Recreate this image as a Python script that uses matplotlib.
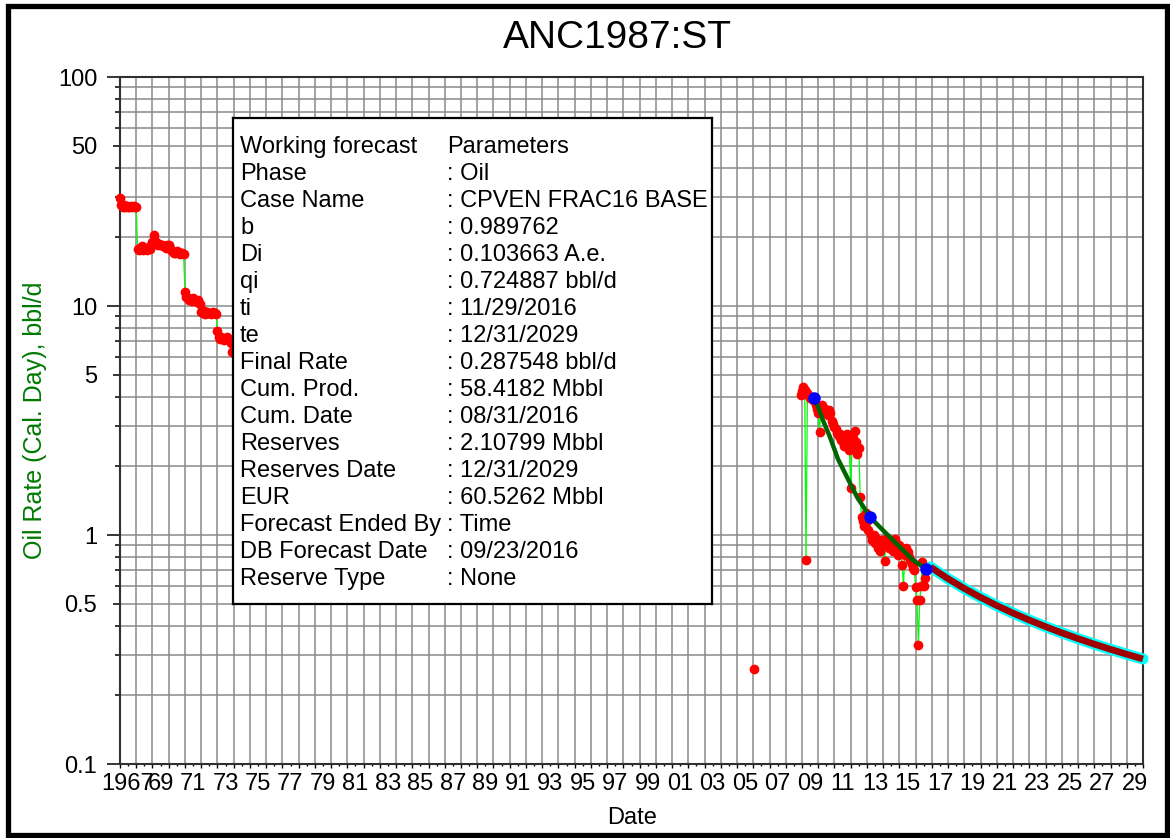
import numpy as np
import matplotlib.pyplot as plt
from matplotlib.patches import Rectangle
from matplotlib.ticker import FixedLocator, NullFormatter

plt.rcParams['font.family'] = ['Liberation Sans', 'DejaVu Sans']

# monthly oil rate, bbl/d, Jan 1967 - Dec 1973
early_start = 1967.0
early_rates = [
    29.5, 27.5, 27.0, 27.5, 27.0, 27.3, 27.0, 27.0, 27.4, 27.0, 27.2, 27.0,
    27.0, 17.8, 17.5, 17.9, 18.2, 17.6, 17.9, 18.0, 17.5, 18.0, 17.7, 18.4,
    19.0, 20.5, 19.3, 18.8, 18.5, 18.6, 18.4, 18.5, 18.2, 18.3, 18.0, 18.4,
    18.5, 18.0, 17.5, 17.2, 17.0, 17.0, 17.3, 17.0, 16.8, 17.0, 17.0, 16.8,
    11.5, 11.0, 10.8, 10.6, 10.7, 10.5, 10.8, 10.6, 10.5, 10.4, 10.6, 10.2,
    9.4, 9.3, 9.5, 9.2, 9.4, 9.3, 9.3, 9.2, 9.3, 9.4, 9.3, 9.2,
    7.8, 7.3, 7.2, 7.3, 7.2, 7.1, 7.2, 7.3, 7.2, 7.1, 6.9, 6.3,
]

# single test month
stray_dates = [2006.05]
stray_rates = [0.26]

# monthly oil rate, bbl/d, Dec 2008 - Aug 2016
recent_start = 2008 + 11 / 12
recent_rates = [
    4.10, 4.25, 4.45, 4.30, 0.78, 4.15, 4.05, 3.95, 4.00, 3.90, 3.96, 3.70,
    3.55, 3.42, 2.83, 3.60, 3.70, 3.50, 3.55, 3.45, 3.35, 3.50, 3.40, 3.15,
    3.05, 2.95, 2.90, 2.80, 2.70, 2.75, 2.60, 2.55, 2.45, 2.60, 2.75, 2.50,
    2.35, 1.60, 2.45, 2.65, 2.85, 2.55, 2.25, 2.40, 1.47, 1.20, 1.15, 1.10,
    1.25, 1.15, 1.05, 1.20, 1.00, 0.95, 1.00, 0.92, 0.97, 0.88, 0.93, 0.85,
    0.95, 0.90, 0.77, 0.92, 0.97, 0.88, 0.95, 0.90, 0.85, 0.92, 0.96, 0.87,
    0.82, 0.90, 0.85, 0.74, 0.60, 0.82, 0.88, 0.84, 0.80, 0.78, 0.75, 0.72,
    0.70, 0.59, 0.52, 0.33, 0.52, 0.60, 0.76, 0.60, 0.65, 0.71,
]
anchor_idx = [10, 51, 93]

# decline fitted through the anchor months
fit_dates = [2009.79, 2010.29, 2010.72, 2011.21, 2011.77, 2012.38,
             2013.18, 2013.98, 2015.03, 2015.83, 2016.63]
fit_rates = [3.96, 3.17, 2.68, 2.15, 1.79, 1.47, 1.20, 1.05, 0.886, 0.778, 0.71]

# working forecast, 11/29/2016 - 12/31/2029
fc_dates = [2016.91, 2017.0, 2018.0, 2019.0, 2020.0, 2021.0, 2022.0, 2023.0,
            2024.0, 2025.0, 2026.0, 2027.0, 2028.0, 2029.0, 2029.997]
fc_rates = [0.7249, 0.7174, 0.6437, 0.5837, 0.5339, 0.4919, 0.4559, 0.4249,
            0.3978, 0.3739, 0.3527, 0.3338, 0.3168, 0.3014, 0.2875]

year_labels = ['1967', '69', '71', '73', '75', '77', '79', '81', '83', '85',
               '87', '89', '91', '93', '95', '97', '99', '01', '03', '05',
               '07', '09', '11', '13', '15', '17', '19', '21', '23', '25',
               '27', '29']
y_ticks = [0.1, 0.5, 1, 5, 10, 50, 100]
y_tick_labels = ['0.1', '0.5', '1', '5', '10', '50', '100']

params = [
    ('Working forecast', 'Parameters'),
    ('Phase', ': Oil'),
    ('Case Name', ': CPVEN FRAC16 BASE'),
    ('b', ': 0.989762'),
    ('Di', ': 0.103663 A.e.'),
    ('qi', ': 0.724887 bbl/d'),
    ('ti', ': 11/29/2016'),
    ('te', ': 12/31/2029'),
    ('Final Rate', ': 0.287548 bbl/d'),
    ('Cum. Prod.', ': 58.4182 Mbbl'),
    ('Cum. Date', ': 08/31/2016'),
    ('Reserves', ': 2.10799 Mbbl'),
    ('Reserves Date', ': 12/31/2029'),
    ('EUR', ': 60.5262 Mbbl'),
    ('Forecast Ended By', ': Time'),
    ('DB Forecast Date', ': 09/23/2016'),
    ('Reserve Type', ': None'),
]

W, H = 1170, 838
fig = plt.figure(figsize=(W / 100, H / 100), dpi=100)
ax = fig.add_axes([120 / W, 1 - 764 / H, (1143 - 120) / W, (764 - 77) / H])
ax.set_yscale('log')
ax.set_xlim(1967, 2030)
ax.set_ylim(0.1, 100)

early_dates = early_start + np.arange(len(early_rates)) / 12
recent_dates = recent_start + np.arange(len(recent_rates)) / 12
recent_rates = np.array(recent_rates)

# production history
for d, r in ((early_dates, early_rates), (recent_dates, recent_rates)):
    ax.plot(d, r, color='#00ff00', lw=0.9, zorder=3)
    ax.plot(d, r, ls='none', marker='o', ms=6, color='red', mec='red',
            zorder=4, clip_on=False)
ax.plot(stray_dates, stray_rates, ls='none', marker='o', ms=6, color='red',
        zorder=4)

# fitted decline and forecast
ax.plot(fit_dates, fit_rates, color='#006400', lw=3.2, zorder=5)
ax.plot(fc_dates, fc_rates, color='#00ffff', lw=8, zorder=5,
        solid_capstyle='round', clip_on=False)
ax.plot(fc_dates, fc_rates, color='#a00000', lw=4.8, zorder=6,
        solid_capstyle='butt', clip_on=False)
ax.plot(recent_dates[anchor_idx], recent_rates[anchor_idx], ls='none',
        marker='o', ms=8, color='#0000ff', mec='#0000ff', zorder=7)

# x axis: yearly grid, labels centred on mid-year
half_years = [1967.5 + i for i in range(63)]
x_labels = []
for i in range(63):
    x_labels.append(year_labels[i // 2] if i % 2 == 0 else '')
ax.xaxis.set_major_locator(FixedLocator(half_years))
ax.set_xticklabels(x_labels)
ax.xaxis.set_minor_locator(FixedLocator(list(range(1967, 2031))))
ax.xaxis.set_minor_formatter(NullFormatter())
ax.tick_params(axis='x', which='major', length=1.5, width=1, pad=5,
               labelsize=17)
ax.tick_params(axis='x', which='minor', length=3, width=1)

# y axis: log decades with 2..9 gridlines
ax.yaxis.set_major_locator(FixedLocator(y_ticks))
ax.set_yticklabels(y_tick_labels)
minor_y = [m * 10.0 ** e for e in (-1, 0, 1) for m in (2, 3, 4, 6, 7, 8, 9)]
ax.yaxis.set_minor_locator(FixedLocator(minor_y))
ax.yaxis.set_minor_formatter(NullFormatter())
ax.tick_params(axis='y', which='major', length=9.4, width=1.1, pad=7,
               labelsize=17)
ax.tick_params(axis='y', which='minor', length=3.6, width=1.1)
for tick, v in zip(ax.yaxis.get_major_ticks(), y_ticks):
    if v in (0.5, 5, 50):
        tick.tick1line.set_markersize(5)

ax.grid(True, which='minor', axis='x', color='#8a8a8a', lw=1.1)
ax.grid(True, which='both', axis='y', color='#8a8a8a', lw=1.1)
ax.set_axisbelow(True)
for s in ax.spines.values():
    s.set_color('#303030')
    s.set_linewidth(1.5)

fig.text(617 / W, 1 - 38 / H, 'ANC1987:ST', fontsize=28, ha='center',
         va='center')
fig.text(632 / W, 1 - 818 / H, 'Date', fontsize=17, ha='center', va='center')
fig.text(35 / W, 1 - 420 / H, 'Oil Rate (Cal. Day), bbl/d', fontsize=18,
         rotation=90, ha='center', va='center', color='#007a00')

# parameter box drawn over the plot
box = fig.add_axes([233 / W, 1 - 604 / H, 479 / W, 486 / H], zorder=5)
box.set_xticks([])
box.set_yticks([])
box.set_facecolor('white')
for s in box.spines.values():
    s.set_color('black')
    s.set_linewidth(1.6)
for i, (name, value) in enumerate(params):
    y = (604 - (147 + 27 * i)) / 486
    box.text(7 / 479, y, name, fontsize=17, va='center', ha='left',
             transform=box.transAxes)
    box.text(214 / 479, y, value, fontsize=17, va='center', ha='left',
             transform=box.transAxes)

fig.patches.append(Rectangle((7.5 / W, 3 / H), (1167 - 7.5) / W, 829 / H,
                             transform=fig.transFigure, fill=False,
                             lw=3.8, ec='black'))

fig.savefig('out.png', dpi=100)
